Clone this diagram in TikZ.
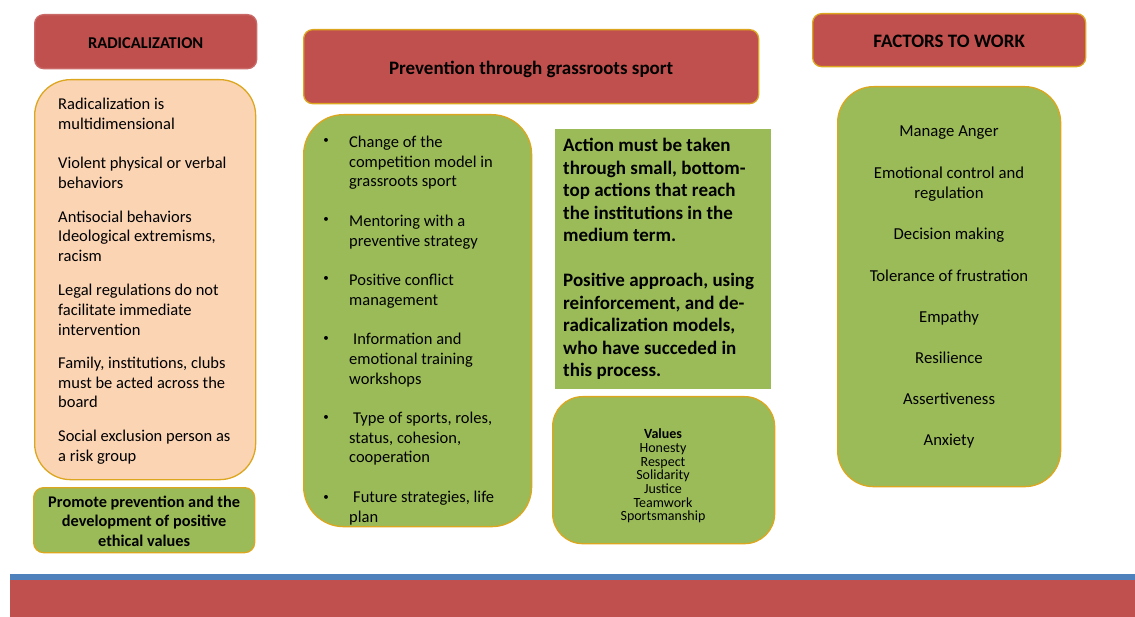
\documentclass[tikz,border=0pt]{standalone}
\usepackage{fontspec}
\setmainfont{Carlito}
\usetikzlibrary{positioning}
\definecolor{boxred}{HTML}{C0504D}
\definecolor{boxgreen}{HTML}{9BBB59}
\definecolor{boxpeach}{HTML}{FBD4B4}
\definecolor{boxgold}{HTML}{DCA61E}
\definecolor{bandblue}{HTML}{4F81BD}
\tikzset{
  panel/.style={rectangle, anchor=north west, inner sep=0pt, line width=1.3pt},
  redhead/.style={panel, rounded corners=9pt, fill=boxred, draw=boxgold},
  peachpanel/.style={panel, rounded corners=36pt, fill=boxpeach, draw=boxgold},
  greenpanel/.style={panel, rounded corners=36pt, fill=boxgreen, draw=boxgold},
  smallpanel/.style={panel, rounded corners=10pt, fill=boxgreen, draw=boxgold},
  headtext/.style={inner sep=0pt, font=\fontsize{16.5}{19.3}\selectfont\bfseries},
  bigheadtext/.style={inner sep=0pt, font=\fontsize{19}{22}\selectfont\bfseries},
  bodytext/.style={anchor=north west, align=left, inner sep=0pt, font=\fontsize{16.5}{19.6}\selectfont},
  bulletmark/.style={inner sep=0pt, font=\fontsize{11}{12}\selectfont}
}
\begin{document}
\begin{tikzpicture}[x=1pt, y=-1pt]
  \useasboundingbox (0,0) rectangle (1135,617);
  % left column
  \node[redhead, draw=boxred!85!white, minimum width=222pt, minimum height=54pt] (radhead) at (34,14) {};
  \node[headtext] (radtitle) at ([yshift=-2pt]radhead.center) {RADICALIZATION};
  \node[peachpanel, minimum width=221pt, minimum height=400pt] (radbox) at (34,79) {};
  \node[bodytext] (radtext) at (58,98)
    {Radicalization is\\ multidimensional\\[20pt]
     Violent physical or verbal\\ behaviors\\[14pt]
     Antisocial behaviors\\ Ideological extremisms,\\ racism\\[15pt]
     Legal regulations do not\\ facilitate immediate\\ intervention\\[14pt]
     Family, institutions, clubs\\ must be acted across the\\ board\\[14pt]
     Social exclusion person as\\ a risk group};
  \node[smallpanel, minimum width=221pt, minimum height=65pt] (promote) at (33,487) {};
  \node[headtext, font=\fontsize{16.3}{19.5}\selectfont\bfseries, align=center] (promotetext) at ([yshift=-1pt]promote.center)
    {Promote prevention and the\\ development of positive\\ ethical values};
  % middle column
  \node[redhead, minimum width=455pt, minimum height=74pt] (prevhead) at (303,29) {};
  \node[bigheadtext] (prevtitle) at ([yshift=-3pt]prevhead.center) {Prevention through grassroots sport};
  \node[greenpanel, rounded corners=40pt, minimum width=228pt, minimum height=412pt] (sportbox) at (303,114) {};
  \foreach \y in {141,220,279,339,418,498}
    \node[bulletmark] (b\y) at (326,\y) {\textbullet};
  \node[bodytext] (sporttext) at (349,136)
    {Change of the\\ competition model in\\ grassroots sport\\[20pt]
     Mentoring with a\\ preventive strategy\\[20pt]
     Positive conflict\\ management\\[20pt]
     \hspace*{4pt}Information and\\ emotional training\\ workshops\\[20pt]
     \hspace*{4pt}Type of sports, roles,\\ status, cohesion,\\ cooperation\\[20pt]
     \hspace*{4pt}Future strategies, life\\ plan};
  \node[panel, fill=boxgreen, minimum width=216pt, minimum height=260pt] (action) at (554,128) {};
  \node[bodytext, font=\fontsize{19}{22.5}\selectfont\bfseries] (actiontext) at (563,138)
    {Action must be taken\\ through small, bottom-\\ top actions that reach\\ the institutions in the\\ medium term.\\[22.5pt]
     Positive approach, using\\ reinforcement, and de-\\ radicalization models,\\ who have succeded in\\ this process.};
  \node[greenpanel, rounded corners=30pt, minimum width=222pt, minimum height=147pt] (values) at (552,396) {};
  \node[inner sep=0pt, align=center, font=\fontsize{14}{13.7}\selectfont] (valuestext) at (663,476)
    {\textbf{Values}\\ Honesty\\ Respect\\ Solidarity\\ Justice\\ Teamwork\\ Sportsmanship};
  % right column
  \node[redhead, minimum width=273pt, minimum height=53pt] (facthead) at (812,13) {};
  \node[bigheadtext] (facttitle) at ([yshift=-1pt]facthead.center) {FACTORS TO WORK};
  \node[greenpanel, minimum width=223pt, minimum height=400pt] (factbox) at (837,86) {};
  \node[bodytext, font=\fontsize{16.7}{20.6}\selectfont, anchor=north, align=center] (facttext) at (949,126)
    {Manage Anger\\[20.6pt]
     Emotional control and\\ regulation\\[20.6pt]
     Decision making\\[20.6pt]
     Tolerance of frustration\\[20.6pt]
     Empathy\\[20.6pt]
     Resilience\\[20.6pt]
     Assertiveness\\[20.6pt]
     Anxiety};
  % bottom bands
  \fill[bandblue] (10,574) rectangle (1135,580);
  \fill[boxred] (10,580) rectangle (1135,617);
\end{tikzpicture}
\end{document}
